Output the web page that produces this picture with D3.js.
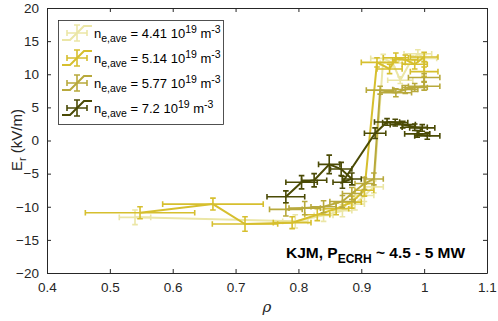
<!DOCTYPE html>
<html>
<head>
<meta charset="utf-8">
<script src="https://cdn.jsdelivr.net/npm/d3@7"></script>
<style>
  body { margin: 0; background: #fff; }
  svg { display: block; font-family: "Liberation Sans", Arial, sans-serif; }
  .tick text { font-size: 13.5px; fill: #262626; }
  .tick line { stroke: #262626; }
  .domain { stroke: #262626; }
</style>
</head>
<body>
<svg width="498" height="321"></svg>
<script>
// series data: rho, Er, and their error bars
const rho441 = [0.54, 0.795, 0.84, 0.87, 0.89, 0.905, 0.92, 0.935, 0.95, 0.962, 0.98, 0.99, 1.0];
const er441  = [-11.6, -12.2, -11.3, -10.6, -9.6, -8.3, -7.0, 12.4, 11.7, 9.1, 12.2, 13.1, 12.4];
const drho441 = [0.025, 0.02, 0.015, 0.015, 0.015, 0.015, 0.015, 0.02, 0.02, 0.02, 0.02, 0.022, 0.02];
const der441  = [1.1, 1.0, 0.9, 0.9, 0.9, 0.9, 0.9, 0.6, 0.6, 0.5, 0.6, 0.6, 0.6];

const rho514 = [0.548, 0.664, 0.715, 0.79, 0.83, 0.86, 0.885, 0.905, 0.925, 0.945, 0.955, 0.97, 0.985, 1.0, 1.0];
const er514  = [-10.9, -9.6, -12.6, -12.4, -11.2, -10.3, -9.3, -7.5, 11.8, 10.8, 12.5, 12.2, 11.5, 12.6, 10.4];
const drho514 = [0.087, 0.08, 0.052, 0.03, 0.02, 0.02, 0.015, 0.015, 0.025, 0.02, 0.02, 0.02, 0.02, 0.022, 0.022];
const der514  = [0.9, 0.9, 1.1, 0.9, 0.9, 0.9, 0.9, 0.9, 0.7, 0.7, 0.7, 0.7, 0.7, 0.7, 0.7];

const rho577 = [0.78, 0.81, 0.84, 0.87, 0.885, 0.905, 0.92, 0.93, 0.955, 0.97, 0.985, 1.0, 1.0];
const er577  = [-10.4, -10.2, -10.0, -9.2, -8.0, -6.5, -5.8, 7.6, 7.2, 7.7, 8.0, 8.2, 9.5];
const drho577 = [0.026, 0.025, 0.02, 0.02, 0.015, 0.015, 0.015, 0.022, 0.025, 0.02, 0.02, 0.025, 0.025];
const der577  = [1.0, 1.0, 0.9, 0.9, 0.9, 0.9, 0.9, 0.6, 0.6, 0.6, 0.6, 0.6, 0.6];

const rho72 = [0.78, 0.805, 0.825, 0.849, 0.868, 0.885, 0.87, 0.922, 0.941, 0.954, 0.966, 0.985, 0.997, 0.989, 1.005];
const er72  = [-8.5, -6.3, -6.0, -3.6, -4.3, -5.8, -6.3, 1.1, 2.8, 2.7, 2.4, 2.0, 1.9, 1.0, 0.7];
const drho72 = [0.03, 0.025, 0.02, 0.017, 0.017, 0.015, 0.015, 0.017, 0.02, 0.02, 0.02, 0.02, 0.02, 0.02, 0.02];
const der72  = [0.9, 1.0, 1.0, 1.4, 1.0, 0.9, 0.9, 0.8, 0.5, 0.5, 0.5, 0.5, 0.5, 0.5, 0.5];

const labels = ["4.41", "5.14", "5.77", "7.2"];
const colors = ["#ebe6a6", "#d6bf2e", "#b8a93c", "#4a4a05"];

const xTicks = [0.4, 0.5, 0.6, 0.7, 0.8, 0.9, 1, 1.1];
const yTicks = [-20, -15, -10, -5, 0, 5, 10, 15, 20];

const series = [
  {rho: rho441, er: er441, drho: drho441, der: der441},
  {rho: rho514, er: er514, drho: drho514, der: der514},
  {rho: rho577, er: er577, drho: drho577, der: der577},
  {rho: rho72, er: er72, drho: drho72, der: der72}
].map((s, i) => ({
  label: labels[i], color: colors[i],
  pts: s.rho.map((r, j) => ({x: r, y: s.er[j], dx: s.drho[j], dy: s.der[j]}))
}));

const svg = d3.select("svg");
const mLeft = 47, mRight = 487, mTop = 8, mBottom = 273;

const x = d3.scaleLinear().domain([0.4, 1.1]).range([mLeft, mRight]);
const y = d3.scaleLinear().domain([-20, 20]).range([mBottom, mTop]);

// axes, ticks pointing inward like matlab
svg.append("g").attr("transform", `translate(0,${mBottom})`)
  .call(d3.axisBottom(x).tickValues(xTicks).tickSizeInner(-4).tickSizeOuter(0).tickPadding(9).tickFormat(d3.format("")));
svg.append("g").attr("transform", `translate(0,${mTop})`)
  .call(d3.axisTop(x).tickValues(xTicks).tickSizeInner(-4).tickSizeOuter(0).tickFormat(""));
svg.append("g").attr("transform", `translate(${mLeft},0)`)
  .call(d3.axisLeft(y).tickValues(yTicks).tickSizeInner(-4).tickSizeOuter(0).tickPadding(8));
svg.append("g").attr("transform", `translate(${mRight},0)`)
  .call(d3.axisRight(y).tickValues(yTicks).tickSizeInner(-4).tickSizeOuter(0).tickFormat(""));
svg.selectAll(".tick text").attr("font-family", null).attr("font-size", null);

const line = d3.line().x(d => x(d.x)).y(d => y(d.y));
const cap = 2.8;

series.forEach(s => {
  const g = svg.append("g").attr("stroke", s.color).attr("fill", "none");
  g.append("path").datum(s.pts).attr("d", line).attr("stroke-width", 2);
  g.selectAll(".eb").data(s.pts).enter().append("path")
    .attr("stroke-width", 1.6)
    .attr("d", d => {
      const cx = x(d.x), cy = y(d.y);
      const x0 = x(d.x - d.dx), x1 = x(d.x + d.dx), y0 = y(d.y - d.dy), y1 = y(d.y + d.dy);
      return `M${x0},${cy}H${x1}M${x0},${cy - cap}V${cy + cap}M${x1},${cy - cap}V${cy + cap}` +
             `M${cx},${y0}V${y1}M${cx - cap},${y0}H${cx + cap}M${cx - cap},${y1}H${cx + cap}`;
    });
});

// legend
const lg = svg.append("g");
lg.append("rect").attr("x", 58.5).attr("y", 20.5).attr("width", 165).attr("height", 104)
  .attr("fill", "#fff").attr("stroke", "#262626").attr("stroke-width", 0.8);
series.forEach((s, i) => {
  const cy = 33 + i * 25;
  const g = lg.append("g").attr("stroke", s.color).attr("fill", "none");
  g.append("path").attr("stroke-width", 2).attr("d", `M62,${cy + 7}L70,${cy + 7}L84,${cy - 7}L92,${cy - 7}`);
  g.append("path").attr("stroke-width", 1.6)
    .attr("d", `M67,${cy}H87M67,${cy - 3}V${cy + 3}M87,${cy - 3}V${cy + 3}M77,${cy - 8}V${cy + 8}M74,${cy - 8}H80M74,${cy + 8}H80`);
  const t = lg.append("text").attr("x", 94).attr("y", cy + 5).attr("font-size", 13).attr("fill", "#000");
  t.append("tspan").text("n");
  t.append("tspan").attr("dy", 4).attr("font-size", 10.5).text("e,ave");
  t.append("tspan").attr("dy", -4).text(" = " + s.label + " 10");
  t.append("tspan").attr("dy", -5).attr("font-size", 10.5).text("19");
  t.append("tspan").attr("dy", 5).text(" m");
  t.append("tspan").attr("dy", -5).attr("font-size", 10.5).text("-3");
});

// axis labels
const yl = svg.append("text").attr("transform", "translate(22,140) rotate(-90)")
  .attr("text-anchor", "middle").attr("font-size", 15).attr("fill", "#262626");
yl.append("tspan").text("E");
yl.append("tspan").attr("dy", 4).attr("font-size", 11).text("r");
yl.append("tspan").attr("dy", -4).text(" (kV/m)");

svg.append("text").attr("x", 267).attr("y", 312).attr("text-anchor", "middle")
  .attr("font-size", 15).attr("font-style", "italic").attr("font-family", "DejaVu Serif, serif")
  .attr("fill", "#262626").text("ρ");

// annotation
const an = svg.append("text").attr("x", 286).attr("y", 258).attr("font-size", 15.5)
  .attr("font-weight", "bold").attr("fill", "#000");
an.append("tspan").text("KJM, P");
an.append("tspan").attr("dy", 5).attr("font-size", 12).text("ECRH");
an.append("tspan").attr("dy", -5).text(" ~ 4.5 - 5 MW");
</script>
</body>
</html>
